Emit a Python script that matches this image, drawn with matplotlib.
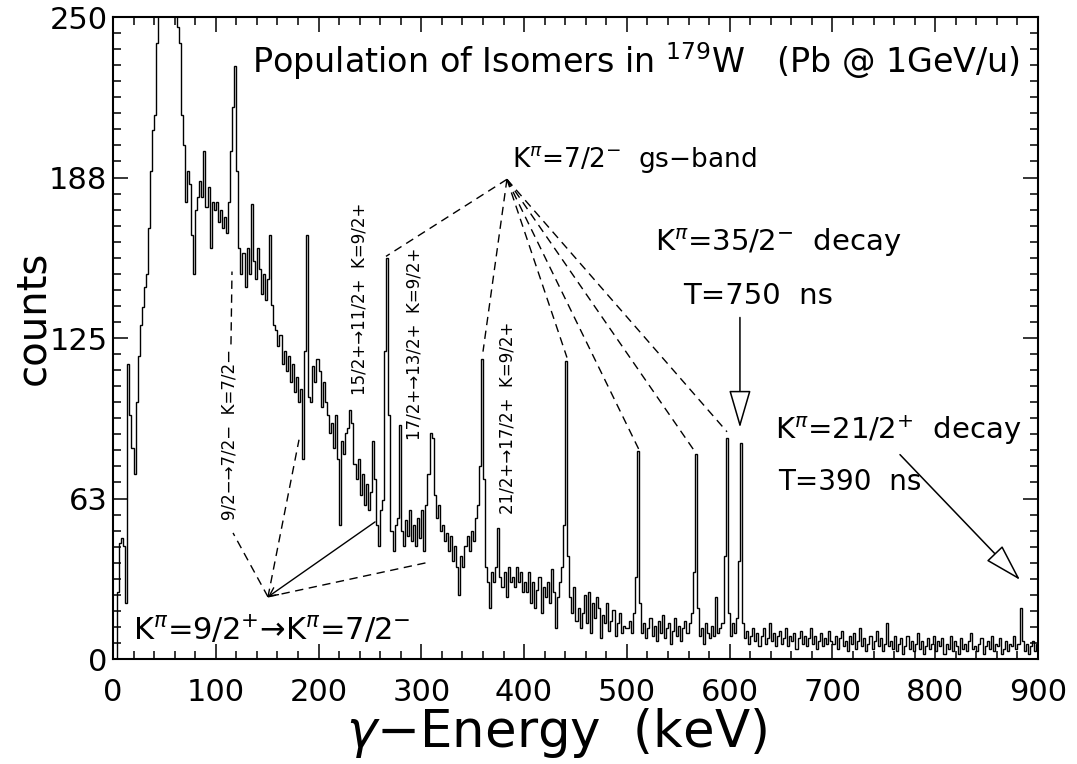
import numpy as np
import matplotlib as mpl
mpl.use("Agg")
import matplotlib.pyplot as plt
from matplotlib.ticker import MultipleLocator, FixedLocator

plt.rcParams.update({"font.family": "DejaVu Sans", "mathtext.fontset": "dejavusans"})

# ---- spectrum, 2 keV bins ----
BIN = 2.0
seg_000 = [0, 0, 26, 45, 47, 44, 22, 115, 95, 82,
           72, 100, 118, 130, 137, 145, 150, 168, 190, 206,
           212, 240, 290, 320, 300, 290, 280, 300, 310, 290,
           260, 246, 240, 212, 200, 178, 190, 185, 165, 150,
           175, 180, 186, 180, 198, 176, 184, 160, 178, 175]
seg_100 = [178, 170, 175, 168, 172, 166, 178, 198, 215, 231,
           190, 160, 150, 158, 145, 160, 150, 177, 155, 148,
           160, 152, 142, 150, 140, 148, 165, 138, 130, 128,
           122, 126, 115, 120, 112, 118, 108, 115, 104, 110,
           100, 105, 78, 120, 165, 102, 100, 114, 108, 117]
seg_200 = [112, 98, 108, 100, 95, 88, 92, 82, 95, 78,
           52, 85, 80, 88, 90, 97, 92, 76, 70, 78,
           64, 72, 60, 68, 58, 65, 85, 70, 52, 44,
           58, 62, 120, 156, 95, 50, 42, 52, 55, 91,
           50, 44, 54, 48, 58, 46, 52, 44, 55, 47]
seg_300 = [58, 42, 60, 72, 88, 86, 64, 55, 60, 50,
           52, 46, 49, 42, 48, 38, 44, 36, 25, 40,
           36, 44, 48, 42, 50, 46, 55, 60, 75, 117,
           70, 36, 30, 20, 34, 30, 36, 51, 32, 28,
           34, 24, 36, 30, 32, 28, 36, 30, 34, 26]
seg_400 = [30, 26, 34, 22, 30, 20, 27, 32, 18, 28,
           24, 30, 22, 35, 26, 12, 24, 30, 36, 52,
           116, 40, 24, 18, 28, 15, 20, 12, 18, 25,
           14, 26, 10, 22, 16, 24, 20, 8, 17, 14,
           22, 11, 15, 19, 9, 14, 18, 10, 13, 12]
seg_500 = [12, 15, 10, 18, 32, 81, 22, 10, 14, 8,
           12, 16, 9, 13, 7, 15, 10, 17, 8, 12,
           14, 6, 11, 16, 9, 13, 7, 12, 15, 10,
           14, 18, 34, 80, 20, 9, 12, 6, 14, 10,
           8, 13, 9, 24, 10, 12, 14, 40, 86, 18]
seg_600 = [9, 14, 10, 16, 38, 84, 14, 8, 11, 6,
           9, 12, 7, 10, 5, 9, 12, 6, 8, 14,
           7, 10, 5, 9, 11, 6, 8, 12, 5, 9,
           7, 10, 4, 8, 11, 6, 9, 5, 8, 12,
           6, 9, 4, 7, 10, 5, 8, 6, 11, 7]
seg_700 = [6, 9, 4, 8, 11, 5, 7, 3, 9, 6,
           10, 4, 7, 12, 5, 8, 3, 6, 9, 4,
           7, 11, 5, 8, 3, 6, 14, 5, 7, 4,
           9, 3, 6, 8, 2, 5, 9, 4, 7, 3,
           6, 10, 4, 7, 2, 5, 8, 4, 6, 9]
seg_800 = [3, 7, 5, 8, 2, 6, 4, 9, 3, 7,
           5, 2, 8, 4, 6, 3, 7, 10, 4, 5,
           3, 6, 8, 2, 5, 7, 4, 9, 3, 6,
           5, 8, 2, 4, 7, 3, 6, 5, 9, 4,
           6, 20, 7, 3, 6, 2, 5, 7, 3, 6]

counts = np.array(seg_000 + seg_100 + seg_200 + seg_300 + seg_400
                  + seg_500 + seg_600 + seg_700 + seg_800, float)
edges = np.arange(len(counts) + 1) * BIN

y_ticks = [0, 62.5, 125, 187.5, 250]
y_ticklabels = ["0", "63", "125", "188", "250"]

# annotation geometry (keV, counts)
gs_apex = (383.3, 186.8)
gs_ends = [(265.6, 156.8), (360.0, 119.7), (441.7, 117.4),
           (511.8, 81.5), (566.3, 80.7), (597.4, 88.5)]
k92_pt = (150.8, 24.2)

fig = plt.figure(figsize=(10.77, 7.64), dpi=100)
ax = fig.add_axes([0.1049, 0.1374, 0.8589, 0.8403])
ax.stairs(counts, edges, color="black", lw=1.0)
ax.set_xlim(0, 900); ax.set_ylim(0, 250)

ax.xaxis.set_major_locator(MultipleLocator(100))
ax.xaxis.set_minor_locator(MultipleLocator(20))
ax.yaxis.set_major_locator(FixedLocator(y_ticks))
ax.set_yticklabels(y_ticklabels)
ax.yaxis.set_minor_locator(MultipleLocator(6.25))
ax.tick_params(which="both", direction="in", top=True, right=True, width=1.1)
ax.tick_params(which="major", length=11, labelsize=22)
ax.tick_params(which="minor", length=6)
ax.tick_params(axis="x", pad=14)
ax.tick_params(axis="y", pad=4)
for s in ax.spines.values():
    s.set_linewidth(1.5)

fig.text(33/1077, 1-318/764, "counts", rotation=90, fontsize=29, ha="center", va="center")
fig.text(557/1077, 1-733/764, r"$\gamma$−Energy  (keV)", fontsize=37, ha="center", va="center")

DASH = dict(color="black", lw=1.0, ls=(0, (6, 4)))
# gs-band fan
for ex, ey in gs_ends:
    ax.plot([gs_apex[0], ex], [gs_apex[1], ey], **DASH)
# K=9/2+ -> K=7/2- links
ax.plot([k92_pt[0], 116.8], [k92_pt[1], 49.1], **DASH)
ax.plot([114.8, 115.8], [122.5, 150.9], **DASH)
ax.plot([k92_pt[0], 181.0], [k92_pt[1], 85.4], **DASH)
ax.plot([k92_pt[0], 308.4], [k92_pt[1], 37.8], **DASH)
ax.annotate("", xy=k92_pt, xytext=(255.0, 53.4),
            arrowprops=dict(arrowstyle="->,head_length=0.5,head_width=0.25",
                            mutation_scale=12, color="black", lw=1.0, shrinkA=0, shrinkB=0))

# isomer arrows (open heads)
OPEN = dict(arrowstyle="-|>,head_length=1.2,head_width=0.35", mutation_scale=20,
            fc="white", ec="black", lw=1.1, shrinkA=0, shrinkB=0)
ax.annotate("", xy=(610, 90.1), xytext=(610, 133), arrowprops=OPEN)
ax.annotate("", xy=(882.5, 30.8), xytext=(765.7, 79.6), arrowprops=OPEN)

ax.text(135, 232.8, r"Population of Isomers in $^{179}$W   (Pb @ 1GeV/u)", fontsize=24, va="center")
ax.text(388.2, 194.6, r"K$^{\pi}$=7/2$^{-}$  gs−band", fontsize=19, va="center")
ax.text(527.3, 162.2, r"K$^{\pi}$=35/2$^{-}$  decay", fontsize=21, va="center")
ax.text(554.6, 141.2, "T=750  ns", fontsize=21, va="center")
ax.text(644, 89.3, r"K$^{\pi}$=21/2$^{+}$  decay", fontsize=21, va="center")
ax.text(647, 69.0, "T=390  ns", fontsize=20, va="center")
ax.text(19.5, 11.3, r"K$^{\pi}$=9/2$^{+}$→K$^{\pi}$=7/2$^{-}$", fontsize=22, va="center")

ROT = dict(rotation=90, fontsize=12, ha="center", va="center")
ax.text(113.8, 87.4, "9/2−→7/2−  K=7/2−", **ROT)
ax.text(240.3, 140.4, "15/2+→11/2+  K=9/2+", **ROT)
ax.text(293.8, 122.9, "17/2+→13/2+  K=9/2+", **ROT)
ax.text(384.3, 94.0, "21/2+→17/2+  K=9/2+", **ROT)

fig.savefig("out.png", dpi=100)
